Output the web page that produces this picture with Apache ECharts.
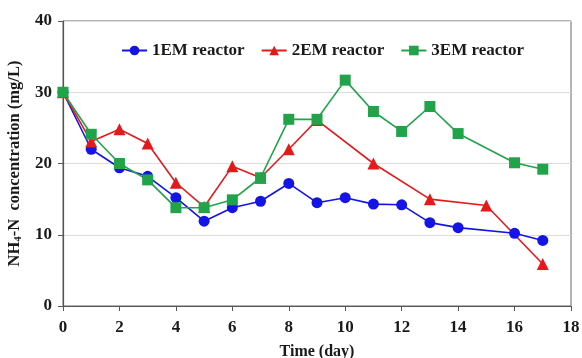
<!DOCTYPE html>
<html>
<head>
<meta charset="utf-8">
<script src="https://cdn.jsdelivr.net/npm/echarts@6/dist/echarts.min.js"></script>
<style>
  html, body { margin: 0; padding: 0; background: #fff; }
  #chart { width: 582px; height: 358px; }
</style>
</head>
<body>
<div id="chart"></div>
<script>
// days and NH4-N values (mg/L)
const days1 = [0, 1, 2, 3, 4, 5, 6, 7, 8, 9, 10, 11, 12, 13, 14, 16, 17]
const em1 = [30.0, 22.0, 19.4, 18.2, 15.2, 11.9, 13.8, 14.7, 17.2, 14.5, 15.2, 14.3, 14.2, 11.7, 11.0, 10.2, 9.2]

const days2 = [0, 1, 2, 3, 4, 5, 6, 7, 8, 9, 11, 13, 15, 17]
const em2 = [30.0, 23.1, 24.8, 22.8, 17.3, 13.9, 19.6, 18.0, 22.0, 26.1, 20.0, 15.0, 14.1, 5.9]

const days3 = [0, 1, 2, 3, 4, 5, 6, 7, 8, 9, 10, 11, 12, 13, 14, 16, 17]
const em3 = [30.0, 24.1, 20.0, 17.7, 13.8, 13.8, 14.9, 18.0, 26.2, 26.2, 31.7, 27.3, 24.5, 28.0, 24.2, 20.1, 19.2]

const seriesNames = ['1EM reactor', '2EM reactor', '3EM reactor']

const font = 'Liberation Serif'
const ink = '#1a1a1a'
const chart = echarts.init(document.getElementById('chart'))

const pairs = (xs, ys) => xs.map((x, i) => [x, ys[i]])

function line(name, xs, ys, color, symbol, size) {
  return {
    name,
    type: 'line',
    data: pairs(xs, ys),
    symbol,
    symbolSize: size,
    showAllSymbol: true,
    lineStyle: { color, width: 1.6 },
    itemStyle: { color },
    emphasis: { disabled: true },
    animation: false
  }
}

chart.setOption({
  backgroundColor: '#fff',
  textStyle: { fontFamily: font },
  legend: {
    data: seriesNames,
    top: 37,
    left: 116,
    itemGap: 16,
    itemWidth: 25,
    itemHeight: 12,
    textStyle: { fontFamily: font, fontWeight: 'bold', fontSize: 17, color: ink }
  },
  grid: {
    left: 63, right: 11, top: 21, bottom: 52,
    outerBoundsMode: 'none',
    containLabel: false,
    show: true, borderColor: '#6b6b6b', borderWidth: 1
  },
  xAxis: {
    type: 'value',
    min: 0, max: 18, interval: 2,
    name: 'Time (day)',
    nameLocation: 'middle',
    nameGap: 38,
    nameTextStyle: { fontFamily: font, fontWeight: 'bold', fontSize: 16, color: ink },
    axisLine: { lineStyle: { color: '#555', width: 1.2 } },
    axisTick: { inside: false, length: 5, lineStyle: { color: '#555' } },
    axisLabel: { fontFamily: font, fontWeight: 'bold', fontSize: 17, color: ink, margin: 13 },
    splitLine: { show: false }
  },
  yAxis: {
    type: 'value',
    min: 0, max: 40, interval: 10,
    name: '{a|NH}{s|4}{a|-N  concentration (mg/L)}',
    nameLocation: 'middle',
    nameGap: 37,
    nameRotate: 90,
    nameTextStyle: {
      rich: {
        a: { fontFamily: font, fontWeight: 'bold', fontSize: 16.5, color: ink },
        s: { fontFamily: font, fontWeight: 'bold', fontSize: 11, color: ink, verticalAlign: 'bottom', padding: [7, 0, 0, 0] }
      }
    },
    axisLine: { show: true, lineStyle: { color: '#555', width: 1.2 } },
    axisTick: { show: true, inside: false, length: 5, lineStyle: { color: '#555' } },
    axisLabel: { fontFamily: font, fontWeight: 'bold', fontSize: 17, color: ink, margin: 11 },
    splitLine: { lineStyle: { color: '#dcdcdc', width: 1 } }
  },
  series: [
    line(seriesNames[0], days1, em1, '#1414e6', 'circle', 11),
    line(seriesNames[1], days2, em2, '#e41a1a', 'triangle', 12),
    line(seriesNames[2], days3, em3, '#21a34a', 'rect', 11)
  ]
})
</script>
</body>
</html>
